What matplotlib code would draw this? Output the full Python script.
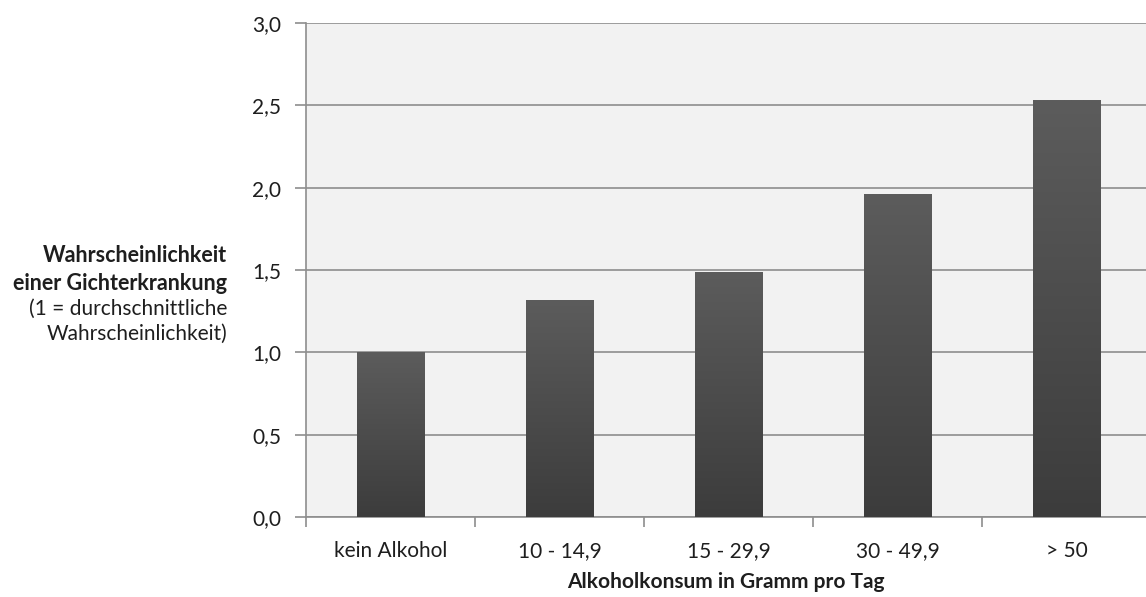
import numpy as np
import matplotlib.pyplot as plt
from matplotlib.colors import LinearSegmentedColormap

kategorien = ['kein Alkohol', '10 - 14,9', '15 - 29,9', '30 - 49,9', '> 50']
risiko = [1.0, 1.32, 1.49, 1.96, 2.53]
y_ticks = [0.0, 0.5, 1.0, 1.5, 2.0, 2.5, 3.0]
y_labels = ['0,0', '0,5', '1,0', '1,5', '2,0', '2,5', '3,0']

plt.rcParams['font.family'] = ['Lato', 'DejaVu Sans']
fs = 15

fig = plt.figure(figsize=(11.46, 5.97), dpi=100)
ax = fig.add_axes([306 / 1146, 1 - 517 / 597, (1151 - 306) / 1146, (517 - 23) / 597])
ax.set_facecolor('#f2f2f2')

x = np.arange(len(kategorien))
bars = ax.bar(x, risiko, width=0.4, color='#4d4d4d', zorder=3, linewidth=0)

# Verlauf in den Balken (oben heller, unten dunkler)
cmap = LinearSegmentedColormap.from_list('balken', ['#3c3c3c', '#5c5c5c'])
grad = np.linspace(0, 1, 256).reshape(-1, 1)
for b in bars:
    bx, by = b.get_x(), b.get_y()
    im = ax.imshow(grad, cmap=cmap, aspect='auto', origin='lower',
                   extent=[bx, bx + b.get_width(), by, by + b.get_height()], zorder=4)
    im.set_clip_path(b)

ax.set_xlim(-0.5, len(kategorien) - 0.5)
ax.set_ylim(0, 3.0)

ax.set_yticks(y_ticks)
ax.set_yticklabels(y_labels, fontsize=fs, color='#1e1e1e')
ax.yaxis.grid(True, color='#8e8e8e', linewidth=1.2, zorder=1)
ax.tick_params(axis='y', length=8, width=1.2, color='#8e8e8e', pad=10)

ax.set_xticks(np.arange(len(kategorien) + 1) - 0.5)
ax.set_xticklabels([])
ax.tick_params(axis='x', which='major', length=7, width=1.2, color='#8e8e8e')
ax.set_xticks(x, minor=True)
ax.set_xticklabels(kategorien, minor=True, fontsize=fs, color='#1e1e1e')
ax.tick_params(axis='x', which='minor', length=0, pad=17)

for s in ['top', 'right']:
    ax.spines[s].set_visible(False)
for s in ['left', 'bottom']:
    ax.spines[s].set_color('#8e8e8e')
    ax.spines[s].set_linewidth(1.2)

fig.text(726 / 1146, 1 - 582 / 597, 'Alkoholkonsum in Gramm pro Tag', ha='center', va='center',
         fontsize=fs, fontweight='bold', color='#1e1e1e')

# Achsentitel links, Zeile fuer Zeile
zeilen = [('Wahrscheinlichkeit', 'bold', 256),
          ('einer Gichterkrankung', 'bold', 283),
          ('(1 = durchschnittliche', 'normal', 309),
          ('Wahrscheinlichkeit)', 'normal', 334)]
for txt, gewicht, ypx in zeilen:
    fig.text(227 / 1146, 1 - ypx / 597, txt, ha='right', va='center',
             fontsize=fs + 0.5 if gewicht == 'bold' else fs, fontweight=gewicht, color='#1e1e1e')

fig.savefig('out.png', dpi=100, facecolor='white')
